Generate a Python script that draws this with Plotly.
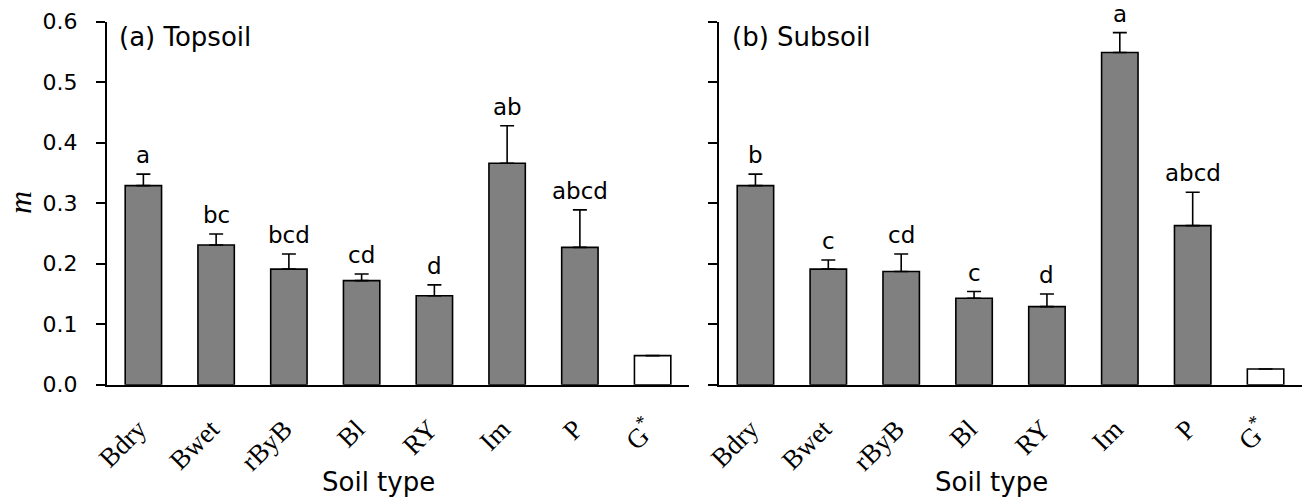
import plotly.graph_objects as go

categories = ["Bdry", "Bwet", "rByB", "Bl", "RY", "Im", "P", "G*"]
tick_labels = ["Bdry", "Bwet", "rByB", "Bl", "RY", "Im", "P", "G<sup>*</sup>"]

top_mean = [0.329, 0.231, 0.191, 0.172, 0.147, 0.366, 0.227, 0.048]
top_err = [0.019, 0.018, 0.025, 0.011, 0.018, 0.062, 0.062, None]
top_letters = ["a", "bc", "bcd", "cd", "d", "ab", "abcd", ""]

sub_mean = [0.329, 0.191, 0.187, 0.143, 0.129, 0.549, 0.263, 0.026]
sub_err = [0.019, 0.015, 0.029, 0.011, 0.021, 0.033, 0.055, None]
sub_letters = ["b", "c", "cd", "c", "d", "a", "abcd", ""]

panel_titles = ["(a) Topsoil", "(b) Subsoil"]
y_ticks = [0.0, 0.1, 0.2, 0.3, 0.4, 0.5, 0.6]
y_ticktext = ["0.0", "0.1", "0.2", "0.3", "0.4", "0.5", "0.6"]

W, H = 1302, 498
SANS = "DejaVu Sans"
SERIF = "Liberation Serif"

fills = ["#808080"] * 7 + ["#ffffff"]
# trailing non-breaking space nudges the rotated labels slightly down-left
tick_text_padded = [t + "\u00a0" for t in tick_labels]

fig = go.Figure()
for i, (means, errs) in enumerate([(top_mean, top_err), (sub_mean, sub_err)]):
    xa = "x" if i == 0 else "x2"
    ya = "y" if i == 0 else "y2"
    fig.add_trace(go.Bar(
        x=categories, y=means, xaxis=xa, yaxis=ya,
        marker=dict(color=fills, line=dict(color="black", width=1.6)),
        error_y=dict(type="data", array=errs, symmetric=False,
                     arrayminus=[0] * len(errs), color="black",
                     thickness=1.6, width=7),
        width=0.5, showlegend=False,
    ))

annotations = []
for i, (means, errs, letters) in enumerate([(top_mean, top_err, top_letters),
                                            (sub_mean, sub_err, sub_letters)]):
    xa = "x" if i == 0 else "x2"
    ya = "y" if i == 0 else "y2"
    for c, m, e, l in zip(categories, means, errs, letters):
        if not l:
            continue
        annotations.append(dict(
            x=c, y=m + (e or 0), xref=xa, yref=ya, text=l, showarrow=False,
            yanchor="bottom", yshift=4, font=dict(family=SANS, size=23, color="black")))

# panel labels
annotations.append(dict(x=117 / W, y=1 - 37 / H, xref="paper", yref="paper",
                        text=panel_titles[0], showarrow=False, xanchor="left",
                        yanchor="middle", font=dict(family=SANS, size=26, color="black")))
annotations.append(dict(x=730 / W, y=1 - 37 / H, xref="paper", yref="paper",
                        text=panel_titles[1], showarrow=False, xanchor="left",
                        yanchor="middle", font=dict(family=SANS, size=26, color="black")))
# x titles
annotations.append(dict(x=378 / W, y=1 - 482 / H, xref="paper", yref="paper",
                        text="Soil type", showarrow=False, xanchor="center",
                        yanchor="middle", font=dict(family=SANS, size=26, color="black")))
annotations.append(dict(x=991 / W, y=1 - 482 / H, xref="paper", yref="paper",
                        text="Soil type", showarrow=False, xanchor="center",
                        yanchor="middle", font=dict(family=SANS, size=26, color="black")))
# y title
annotations.append(dict(x=20 / W, y=1 - 203 / H, xref="paper", yref="paper",
                        text="<i>m</i>", showarrow=False, xanchor="center",
                        yanchor="middle", textangle=-90,
                        font=dict(family=SERIF, size=32, color="black")))

y_lo = 1 - 384.7 / H
y_hi = 1 - 21.7 / H

xcommon = dict(type="category", range=[-0.5, 7.5], showline=True, linecolor="black",
               linewidth=2, ticks="", showgrid=False, zeroline=False,
               tickmode="array", tickvals=categories, ticktext=tick_text_padded,
               tickangle=-45, tickfont=dict(family=SERIF, size=27, color="black"),
               ticklabelstandoff=11, automargin=False)
ycommon = dict(range=[0, 0.6], showline=True, linecolor="black", linewidth=2,
               ticks="outside", ticklen=9, tickwidth=2, tickcolor="black",
               showgrid=False, zeroline=False, tickmode="array", tickvals=y_ticks,
               domain=[y_lo, y_hi], automargin=False)

fig.update_layout(
    width=W, height=H, margin=dict(l=0, r=0, t=0, b=0, pad=0, autoexpand=False),
    paper_bgcolor="white", plot_bgcolor="white",
    bargap=0.5,
    xaxis=dict(xcommon, domain=[107 / W, 689 / W], anchor="y"),
    xaxis2=dict(xcommon, domain=[719 / W, 1.0], anchor="y2"),
    yaxis=dict(ycommon, anchor="x", ticktext=y_ticktext,
               tickfont=dict(family=SANS, size=22, color="black"),
               ticklabelstandoff=14),
    yaxis2=dict(ycommon, anchor="x2", showticklabels=False),
    annotations=annotations,
)

fig.write_html("out.html", config={"displayModeBar": False},
               post_script="document.body.style.margin='0';document.body.style.overflow='hidden';")
